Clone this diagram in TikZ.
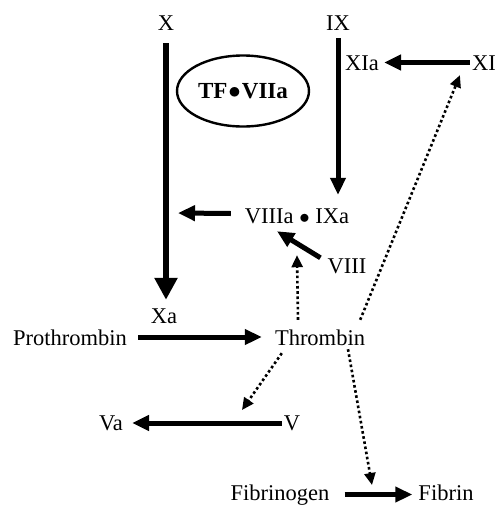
\documentclass[tikz,border=0pt]{standalone}
\usepackage{fontspec}
\setmainfont{Liberation Serif}
\usetikzlibrary{arrows.meta,shapes.geometric}
\begin{document}
\begin{tikzpicture}[x=1pt,y=-1pt,
  lbl/.style={inner sep=0pt,anchor=base,text height=15pt,text depth=4pt,font=\fontsize{22.5pt}{26pt}\selectfont},
  conv/.style={line width=5pt,-{Triangle[length=17pt,width=15pt]}},
  bigconv/.style={line width=5.5pt,-{Triangle[length=22pt,width=22pt]}},
  acts/.style={line width=2.6pt,dash pattern=on 2.6pt off 2.6pt,-{Triangle[length=12pt,width=11pt]}}]
\useasboundingbox (0,0) rectangle (496,507);
% factor labels
\node[lbl] (X)    at (166,30)  {X};
\node[lbl] (IX)   at (338,30)  {IX};
\node[lbl] (XIa)  at (362,70)  {XIa};
\node[lbl] (XI)   at (484,70)  {XI};
\node[lbl] (Ten)  at (297,223) {VIIIa $\bullet$ IXa};
\node[lbl] (VIII) at (347,273) {VIII};
\node[lbl] (Xa)   at (164,323) {Xa};
\node[lbl] (Pro)  at (70,345)  {Prothrombin};
\node[lbl] (Thr)  at (320,345) {Thrombin};
\node[lbl] (Va)   at (111,430) {Va};
\node[lbl] (V)    at (292,430) {V};
\node[lbl] (Fbg)  at (280,500) {Fibrinogen};
\node[lbl] (Fbn)  at (446,500) {Fibrin};
% tissue factor complex
\node[draw,ellipse,line width=2.4pt,minimum width=132pt,minimum height=71pt,inner sep=0pt,
      font=\fontsize{23pt}{26pt}\selectfont\bfseries] (TF) at (243,91) {TF\kern1pt$\bullet$\kern1pt VIIa};
% free ends of arrows
\coordinate (tenout) at (178,213);
\coordinate (vhit)   at (242,410);
\coordinate (fhit)   at (372,485);
% solid conversions
\draw[bigconv,shorten <=9pt,shorten >=8pt] (X.south) -- (X.south |- Xa.north);
\draw[conv,shorten <=4pt,shorten >=13pt] (IX.south) -- (IX.south |- Ten.north);
\draw[conv,shorten >=5pt] ([xshift=-2pt,yshift=2pt]XI.west) -- ([yshift=2pt]XIa.east);
\draw[conv] ([xshift=-14pt,yshift=4pt]Ten.west) -- (tenout);
\draw[conv] ([xshift=-7pt]VIII.north west) -- ([xshift=-20pt,yshift=-4pt]Ten.south);
\draw[conv,shorten <=11pt,shorten >=13pt] ([yshift=2.5pt]Pro.east) -- ([yshift=2.5pt]Thr.west);
\draw[conv,shorten <=2pt,shorten >=9pt] ([yshift=1.5pt]V.west) -- ([yshift=1.5pt]Va.east);
\draw[conv,shorten <=15pt,shorten >=6pt] (Fbg.east) -- (Fbn.west);
% thrombin feedback
\draw[acts] ([xshift=-22pt,yshift=10pt]Thr.north) -- ([yshift=-28pt]Ten.south);
\draw[acts] ([xshift=-5pt,yshift=10pt]Thr.north east) -- ([xshift=-12pt,yshift=-1pt]XI.south west);
\draw[acts] ([xshift=7pt,yshift=-4pt]Thr.south west) -- (vhit);
\draw[acts] ([xshift=28pt]Thr.south) -- (fhit);
\end{tikzpicture}
\end{document}
